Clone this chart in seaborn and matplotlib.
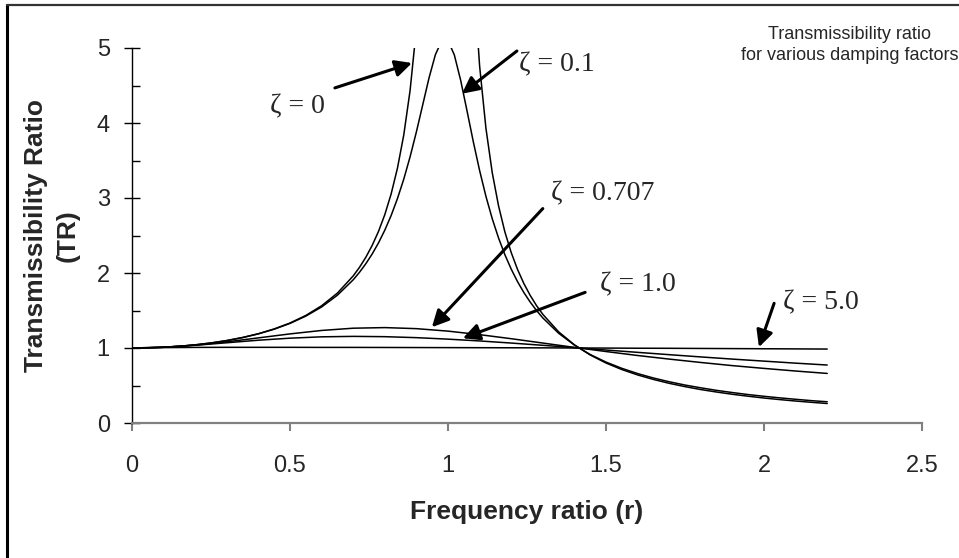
import numpy as np
import matplotlib
matplotlib.use("Agg")
import matplotlib.pyplot as plt
from matplotlib.lines import Line2D
from matplotlib.ticker import MultipleLocator
import seaborn as sns

# frequency ratio samples (denser around resonance)
r_fine = [0.00, 0.05, 0.10, 0.15, 0.20, 0.25, 0.30, 0.35, 0.40, 0.45, 0.50, 0.55, 0.60, 0.65,
          0.70, 0.72, 0.74, 0.76, 0.78, 0.80, 0.82, 0.84, 0.86, 0.88, 0.90, 0.92, 0.94, 0.96,
          0.98, 1.00, 1.02, 1.04, 1.06, 1.08, 1.10, 1.12, 1.14, 1.16, 1.18, 1.20, 1.22, 1.24,
          1.26, 1.28, 1.30, 1.35, 1.40, 1.45, 1.50, 1.55, 1.60, 1.65, 1.70, 1.75, 1.80, 1.85,
          1.90, 1.95, 2.00, 2.05, 2.10, 2.15, 2.20]
r_coarse = [0.0, 0.1, 0.2, 0.3, 0.4, 0.5, 0.6, 0.7, 0.8, 0.9, 1.0, 1.1, 1.2, 1.3, 1.4, 1.5,
            1.6, 1.7, 1.8, 1.9, 2.0, 2.1, 2.2]

# transmissibility ratio for each damping factor
tr_zeta_0 = [1.000, 1.003, 1.010, 1.023, 1.042, 1.067, 1.099, 1.140, 1.190, 1.254, 1.333, 1.434,
             1.563, 1.732, 1.961, 2.076, 2.210, 2.367, 2.554, 2.778, 3.053, 3.397, 3.840, 4.433,
             5.263, 6.510, 8.591, 12.755, 25.25, np.nan, 24.75, 12.255, 8.091, 6.010, 4.762,
             3.931, 3.338, 2.894, 2.548, 2.273, 2.048, 1.860, 1.702, 1.566, 1.449, 1.216, 1.042,
             0.907, 0.800, 0.713, 0.641, 0.581, 0.529, 0.485, 0.446, 0.413, 0.383, 0.357, 0.333,
             0.312, 0.293, 0.276, 0.260]
tr_zeta_01 = [1.000, 1.003, 1.010, 1.023, 1.042, 1.067, 1.099, 1.139, 1.189, 1.251, 1.328, 1.425,
              1.547, 1.704, 1.909, 2.010, 2.124, 2.253, 2.401, 2.571, 2.766, 2.992, 3.251, 3.549,
              3.882, 4.242, 4.602, 4.910, 5.096, 5.099, 4.908, 4.571, 4.166, 3.752, 3.367, 3.023,
              2.724, 2.466, 2.244, 2.052, 1.885, 1.740, 1.613, 1.501, 1.401, 1.197, 1.039, 0.913,
              0.812, 0.729, 0.659, 0.600, 0.550, 0.506, 0.469, 0.435, 0.406, 0.379, 0.356, 0.335,
              0.316, 0.298, 0.283]
tr_zeta_0707 = [1.000, 1.010, 1.038, 1.082, 1.135, 1.188, 1.234, 1.264, 1.272, 1.258, 1.225, 1.178,
                1.124, 1.066, 1.008, 0.953, 0.900, 0.852, 0.807, 0.765, 0.728, 0.693, 0.661]
tr_zeta_1 = [1.000, 1.010, 1.036, 1.070, 1.104, 1.131, 1.149, 1.155, 1.151, 1.138, 1.118, 1.094,
             1.066, 1.036, 1.005, 0.973, 0.942, 0.911, 0.881, 0.852, 0.825, 0.798, 0.773]
tr_zeta_5 = [1.000, 1.005, 1.008, 1.009, 1.009, 1.009, 1.008, 1.008, 1.007, 1.006, 1.005, 1.004,
             1.003, 1.002, 1.000, 0.999, 0.997, 0.996, 0.994, 0.992, 0.990, 0.988, 0.986]

x_ticks = [0, 0.5, 1, 1.5, 2, 2.5]
x_tick_labels = ["0", "0.5", "1", "1.5", "2", "2.5"]
y_ticks = [0, 1, 2, 3, 4, 5]

sns.set_style("white")
plt.rcParams["font.family"] = ["Liberation Sans", "DejaVu Sans"]

fig = plt.figure(figsize=(9.59, 5.58), dpi=100)
ax = fig.add_axes([132 / 959, 135 / 558, 790 / 959, 375 / 558])

series = [(r_fine, tr_zeta_0), (r_fine, tr_zeta_01), (r_coarse, tr_zeta_0707),
          (r_coarse, tr_zeta_1), (r_coarse, tr_zeta_5)]
for xs, ys in series:
    sns.lineplot(x=xs, y=ys, ax=ax, color="black", linewidth=1.1, sort=False)

ax.set_xlim(0, 2.5)
ax.set_ylim(0, 5)
ax.set_xticks(x_ticks)
ax.set_xticklabels(x_tick_labels)
ax.set_yticks(y_ticks)
ax.yaxis.set_minor_locator(MultipleLocator(0.5))

# Excel-like axes: black y axis with crossing ticks, grey x axis
for side in ["top", "right"]:
    ax.spines[side].set_visible(False)
ax.spines["left"].set_color("black")
ax.spines["left"].set_linewidth(1.0)
ax.spines["bottom"].set_color("#808080")
ax.spines["bottom"].set_linewidth(1.6)
ax.tick_params(axis="y", which="major", direction="inout", length=12, width=1.0,
               color="black", labelsize=17, pad=10, left=True)
ax.tick_params(axis="y", which="minor", direction="in", length=6, width=1.0,
               color="black", left=True)
ax.tick_params(axis="x", which="major", direction="out", length=6, width=1.5,
               color="#808080", labelsize=17, pad=17, bottom=True)

ax.set_xlabel("Frequency ratio (r)", fontsize=19, fontweight="bold", va="center")
ax.xaxis.set_label_coords(0.5, -0.237)
ax.set_ylabel("Transmissibility Ratio\n(TR)", fontsize=19, fontweight="bold",
              va="center", ha="center", linespacing=1.4)
ax.yaxis.set_label_coords(-0.101, 0.5)

# damping factor labels with arrows
zeta_font = dict(fontsize=20, family=["Liberation Serif", "DejaVu Serif"],
                 ha="center", va="center")
arrow = dict(arrowstyle="-|>", color="black", lw=2.2, mutation_scale=25,
             shrinkA=0, shrinkB=0)
labels = [
    ("ζ = 0", (0.525, 4.215), (0.642, 4.468), (0.886, 4.80)),
    ("ζ = 0.1", (1.345, 4.774), (1.218, 4.96), (1.044, 4.39)),
    ("ζ = 0.707", (1.488, 3.059), (1.300, 2.859), (0.949, 1.277)),
    ("ζ = 1.0", (1.600, 1.848), (1.434, 1.742), (1.047, 1.130)),
    ("ζ = 5.0", (2.180, 1.596), (2.032, 1.596), (1.984, 1.011)),
]
for text, pos, tail, head in labels:
    ax.text(pos[0], pos[1], text, **zeta_font)
    ax.annotate("", xy=head, xytext=tail, arrowprops=arrow, annotation_clip=False)

fig.text(850 / 959, 1 - 45 / 558, "Transmissibility ratio\nfor various damping factors",
         ha="center", va="center", fontsize=13, linespacing=1.25)

# chart frame (left and top edges visible in the crop)
fig.add_artist(Line2D([7 / 959, 7 / 959], [0, 1 - 5 / 558], transform=fig.transFigure,
                      color="black", linewidth=2.2))
fig.add_artist(Line2D([7 / 959, 1], [1 - 5 / 558, 1 - 5 / 558], transform=fig.transFigure,
                      color="#333333", linewidth=1.6))

fig.savefig("out.png", dpi=100)
